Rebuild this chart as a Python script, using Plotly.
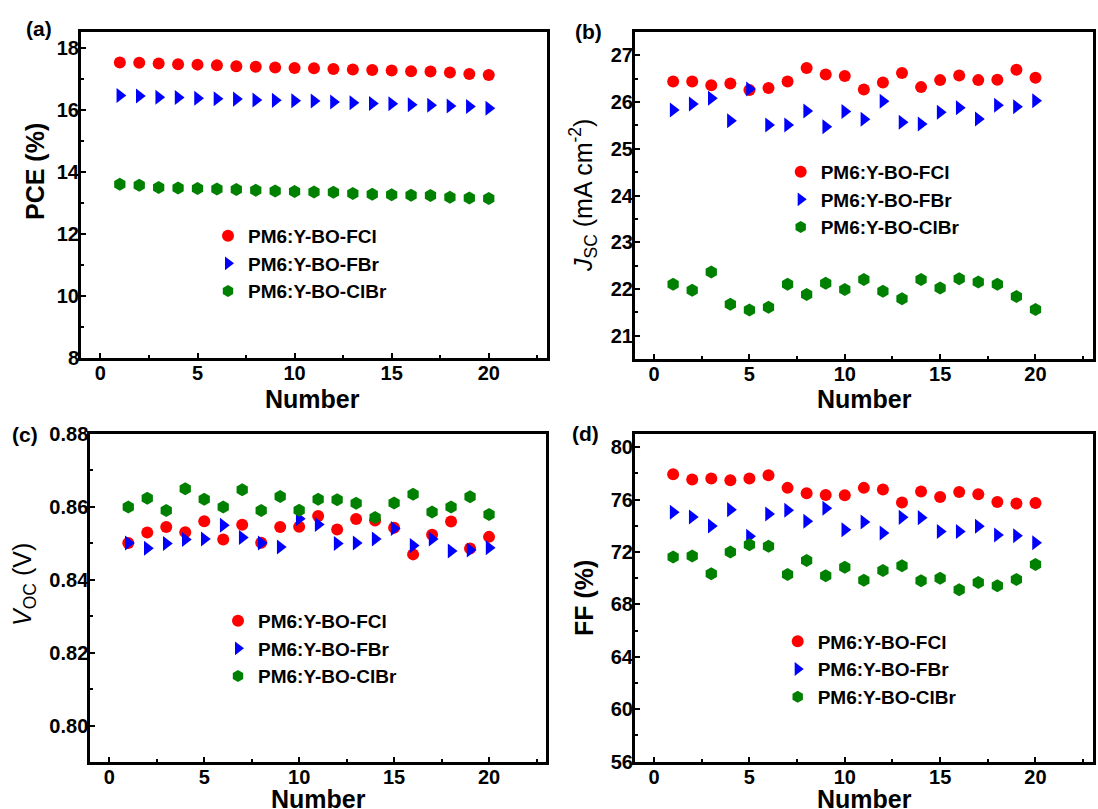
import plotly.graph_objects as go

W, H = 1098, 809

number = list(range(1, 21))
series_names = ["PM6:Y-BO-FCl", "PM6:Y-BO-FBr", "PM6:Y-BO-ClBr"]

pce_fcl = [17.52, 17.51, 17.49, 17.46, 17.45, 17.43, 17.40, 17.38, 17.36, 17.34,
           17.33, 17.31, 17.29, 17.28, 17.26, 17.24, 17.23, 17.20, 17.15, 17.12]
pce_fbr = [16.46, 16.44, 16.40, 16.39, 16.37, 16.35, 16.34, 16.31, 16.30, 16.29,
           16.28, 16.25, 16.22, 16.20, 16.19, 16.16, 16.14, 16.12, 16.10, 16.05]
pce_clbr = [13.60, 13.57, 13.50, 13.48, 13.46, 13.45, 13.43, 13.41, 13.38, 13.37,
            13.35, 13.34, 13.30, 13.28, 13.26, 13.25, 13.24, 13.18, 13.16, 13.14]

jsc_fcl = [26.44, 26.44, 26.36, 26.40, 26.26, 26.30, 26.44, 26.73, 26.59, 26.56,
           26.27, 26.42, 26.62, 26.32, 26.47, 26.57, 26.47, 26.48, 26.69, 26.52]
jsc_fbr = [25.83, 25.96, 26.08, 25.60, 26.28, 25.51, 25.51, 25.81, 25.47, 25.80,
           25.63, 26.02, 25.57, 25.53, 25.78, 25.88, 25.64, 25.93, 25.90, 26.03]
jsc_clbr = [22.10, 21.97, 22.36, 21.67, 21.55, 21.61, 22.10, 21.88, 22.12, 21.99,
            22.20, 21.95, 21.79, 22.20, 22.02, 22.22, 22.15, 22.10, 21.84, 21.56]

voc_fcl = [0.8501, 0.8530, 0.8545, 0.8531, 0.8561, 0.8511, 0.8551, 0.8502, 0.8545, 0.8546,
           0.8575, 0.8538, 0.8567, 0.8563, 0.8543, 0.8470, 0.8524, 0.8560, 0.8486, 0.8518]
voc_fbr = [0.8501, 0.8487, 0.8500, 0.8511, 0.8512, 0.8550, 0.8516, 0.8501, 0.8490, 0.8568,
           0.8552, 0.8500, 0.8501, 0.8512, 0.8541, 0.8494, 0.8512, 0.8479, 0.8482, 0.8488]
voc_clbr = [0.8600, 0.8624, 0.8590, 0.8650, 0.8621, 0.8600, 0.8647, 0.8590, 0.8629, 0.8591,
            0.8621, 0.8620, 0.8610, 0.8571, 0.8611, 0.8635, 0.8586, 0.8600, 0.8628, 0.8579]

ff_fcl = [77.93, 77.53, 77.60, 77.48, 77.60, 77.86, 76.89, 76.48, 76.35, 76.33,
          76.89, 76.76, 75.77, 76.61, 76.20, 76.58, 76.40, 75.82, 75.69, 75.74]
ff_fbr = [75.03, 74.67, 73.98, 75.23, 73.19, 74.90, 75.18, 74.34, 75.33, 73.70,
          74.29, 73.45, 74.64, 74.62, 73.57, 73.57, 73.96, 73.29, 73.24, 72.71]
ff_clbr = [71.61, 71.69, 70.33, 71.99, 72.55, 72.43, 70.28, 71.35, 70.18, 70.84,
           69.85, 70.59, 70.95, 69.80, 70.00, 69.11, 69.67, 69.42, 69.90, 71.05]

colors = ["#FF0000", "#0000FF", "#008000"]
symbols = ["circle", "triangle-right", "hexagon"]
sizes = [12, 13, 13]

FONT = "Liberation Sans, Arial, sans-serif"

def px_x(p):
    return p / W

def px_y(p):
    return 1 - p / H

# panel geometry in pixels: left, right, top, bottom
panels = [
    dict(l=81, r=547, t=32, b=358.3),
    dict(l=635, r=1092.7, t=32, b=359),
    dict(l=90.3, r=546, t=434, b=762.3),
    dict(l=635, r=1092.7, t=434, b=761.7),
]

fig = go.Figure()

data_sets = [
    [pce_fcl, pce_fbr, pce_clbr],
    [jsc_fcl, jsc_fbr, jsc_clbr],
    [voc_fcl, voc_fbr, voc_clbr],
    [ff_fcl, ff_fbr, ff_clbr],
]
legend_ids = ["legend", "legend2", "legend3", "legend4"]

for i, ds in enumerate(data_sets):
    xa = "x" if i == 0 else f"x{i+1}"
    ya = "y" if i == 0 else f"y{i+1}"
    for k in range(3):
        fig.add_trace(go.Scatter(
            x=number, y=ds[k], mode="markers", name=series_names[k],
            marker=dict(color=colors[k], symbol=symbols[k], size=sizes[k], line=dict(width=0)),
            xaxis=xa, yaxis=ya, legend=legend_ids[i], showlegend=True,
        ))

yranges = [[8, 18.5], [20.5, 27.5], [0.79, 0.88], [56, 81]]
ydticks = [2, 1, 0.02, 4]
ytick0 = [8, 21, 0.80, 56]
ytitles = [
    "<b>PCE (%)</b>",
    "<i>J</i><sub>SC</sub> (mA cm<sup>-2</sup>)",
    "<i>V</i><sub>OC</sub> (V)",
    "<b>FF (%)</b>",
]
# y-title centres in px (x, y)
ytitle_pos = [(35, 172), (583, 196), (24, 585), (584, 598)]
# x-title centres in px (x, y)
xtitle_pos = [(312, 399), (864, 399), (318, 799), (864, 799)]
ytickfmt = [".0f", ".0f", ".2f", ".0f"]

axis_common = dict(
    showline=True, linewidth=3, linecolor="black", mirror=True,
    ticks="inside", ticklen=5, tickwidth=2, tickcolor="black",
    showgrid=False, zeroline=False,
    tickfont=dict(family=FONT, size=20, color="black", weight="bold"),
    automargin=False,
)

layout = dict(
    width=W, height=H, margin=dict(l=0, r=0, t=0, b=0),
    paper_bgcolor="white", plot_bgcolor="white",
    font=dict(family=FONT, color="black"),
)

for i, p in enumerate(panels):
    xk = "xaxis" if i == 0 else f"xaxis{i+1}"
    yk = "yaxis" if i == 0 else f"yaxis{i+1}"
    ya = "y" if i == 0 else f"y{i+1}"
    xa = "x" if i == 0 else f"x{i+1}"
    layout[xk] = dict(
        axis_common,
        domain=[px_x(p["l"]), px_x(p["r"])],
        range=[-1, 23], tick0=0, dtick=5, ticklabelstandoff=-5,
        minor=dict(tick0=0, dtick=2.5, ticks="inside", ticklen=3, tickwidth=2, tickcolor="black"),
        anchor=ya,
    )
    layout[yk] = dict(
        axis_common,
        domain=[px_y(p["b"]), px_y(p["t"])],
        range=yranges[i], tick0=ytick0[i], dtick=ydticks[i], tickformat=ytickfmt[i],
        ticklabelstandoff=-5,
        minor=dict(tick0=ytick0[i], dtick=ydticks[i] / 2, ticks="inside", ticklen=3, tickwidth=2, tickcolor="black"),
        anchor=xa,
    )

# legends positioned by marker centre (px) of middle row
legend_pos = [(228, 263), (800.7, 199), (238, 648), (797.7, 668.7)]
for i, (mx, my) in enumerate(legend_pos):
    layout[legend_ids[i]] = dict(
        x=px_x(mx - 20), y=px_y(my - 27.7 - 18.5), xanchor="left", yanchor="top",
        bgcolor="rgba(0,0,0,0)", borderwidth=0,
        font=dict(family=FONT, size=19, color="black", weight="bold"),
        tracegroupgap=0, itemsizing="constant",
    )

fig.update_layout(**layout)

for txt, (tx, ty) in zip(ytitles, ytitle_pos):
    fig.add_annotation(
        text=txt, x=px_x(tx), y=px_y(ty), xref="paper", yref="paper",
        xanchor="center", yanchor="middle", showarrow=False, textangle=-90,
        font=dict(family=FONT, size=25, color="black"),
    )

for tx, ty in xtitle_pos:
    fig.add_annotation(
        text="<b>Number</b>", x=px_x(tx), y=px_y(ty), xref="paper", yref="paper",
        xanchor="center", yanchor="middle", showarrow=False,
        font=dict(family=FONT, size=25, color="black"),
    )

labels = [("(a)", 39, 28), ("(b)", 588, 31), ("(c)", 25, 434), ("(d)", 585, 433)]
for txt, lx, ly in labels:
    fig.add_annotation(
        text=f"<b>{txt}</b>", x=px_x(lx), y=px_y(ly), xref="paper", yref="paper",
        xanchor="center", yanchor="middle", showarrow=False,
        font=dict(family=FONT, size=21, color="black"),
    )

fig.write_html("out.html")
